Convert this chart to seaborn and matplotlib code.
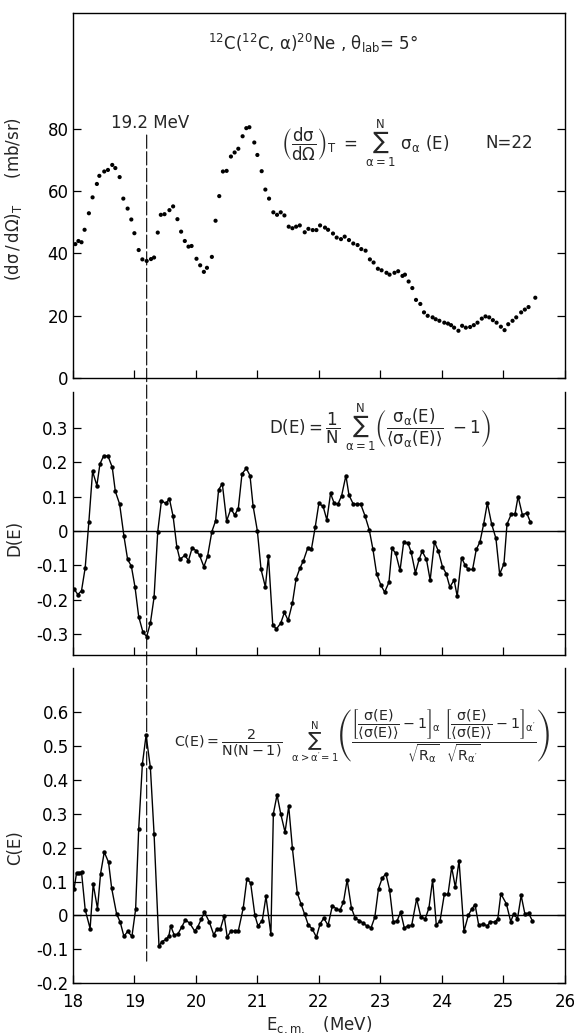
import matplotlib
matplotlib.use("Agg")
import matplotlib.pyplot as plt
import seaborn as sns
import pandas as pd
from matplotlib.patches import ConnectionPatch
from matplotlib.ticker import FuncFormatter

# total cross section (top panel)
e_sigma = [18.04, 18.09, 18.14, 18.19, 18.26, 18.32, 18.39, 18.43, 18.51, 18.57,
           18.64, 18.69, 18.76, 18.82, 18.89, 18.95, 19.00, 19.07, 19.13, 19.20,
           19.27, 19.32, 19.38, 19.43, 19.49, 19.57, 19.63, 19.70, 19.76, 19.82,
           19.88, 19.93, 20.01, 20.07, 20.13, 20.18, 20.26, 20.32, 20.38, 20.44,
           20.50, 20.57, 20.63, 20.69, 20.76, 20.82, 20.87, 20.95, 21.00, 21.07,
           21.13, 21.19, 21.26, 21.32, 21.38, 21.44, 21.51, 21.57, 21.63, 21.69,
           21.77, 21.83, 21.90, 21.96, 22.02, 22.10, 22.15, 22.23, 22.29, 22.36,
           22.42, 22.49, 22.56, 22.63, 22.69, 22.76, 22.83, 22.89, 22.96, 23.02,
           23.10, 23.15, 23.23, 23.29, 23.36, 23.40, 23.46, 23.52, 23.58, 23.65,
           23.71, 23.77, 23.85, 23.90, 23.96, 24.04, 24.10, 24.15, 24.20, 24.27,
           24.33, 24.39, 24.46, 24.52, 24.58, 24.65, 24.71, 24.77, 24.83, 24.89,
           24.96, 25.02, 25.08, 25.15, 25.21, 25.29, 25.35, 25.41, 25.52]
sigma_t = [43.0, 44.0, 43.6, 47.6, 52.9, 58.0, 62.3, 64.9, 66.3, 66.8,
           68.4, 67.4, 64.5, 57.6, 54.4, 50.9, 46.5, 41.1, 38.1, 37.6,
           38.2, 38.7, 46.7, 52.4, 52.6, 53.9, 55.1, 51.0, 47.0, 44.0,
           42.2, 42.4, 38.3, 36.2, 34.1, 35.4, 38.9, 50.5, 58.4, 66.3,
           66.5, 71.1, 72.4, 73.6, 77.6, 80.2, 80.5, 75.6, 71.6, 66.4,
           60.5, 57.6, 53.2, 52.4, 53.2, 52.2, 48.6, 48.1, 48.6, 49.0,
           46.8, 47.9, 47.5, 47.5, 49.0, 48.3, 47.6, 46.4, 45.1, 44.6,
           45.4, 44.3, 43.2, 42.7, 41.4, 40.9, 38.1, 37.1, 35.1, 34.6,
           33.8, 33.2, 33.8, 34.3, 32.8, 33.2, 31.0, 28.9, 25.1, 23.8,
           21.1, 20.0, 19.5, 18.9, 18.4, 17.8, 17.5, 17.0, 16.2, 15.2,
           16.8, 16.2, 16.4, 17.0, 17.8, 19.1, 19.8, 19.5, 18.6, 17.8,
           16.5, 15.4, 17.3, 18.4, 19.5, 21.1, 22.0, 22.8, 25.8]

# D(E) (middle panel)
e_d = [18.02, 18.08, 18.14, 18.20, 18.26, 18.32, 18.39, 18.44, 18.50, 18.57,
       18.64, 18.69, 18.76, 18.83, 18.89, 18.95, 19.01, 19.07, 19.14, 19.20,
       19.26, 19.32, 19.38, 19.44, 19.51, 19.57, 19.63, 19.69, 19.74, 19.82,
       19.88, 19.94, 20.00, 20.06, 20.13, 20.19, 20.26, 20.32, 20.37, 20.43,
       20.50, 20.57, 20.63, 20.69, 20.75, 20.82, 20.88, 20.93, 21.00, 21.06,
       21.13, 21.18, 21.25, 21.31, 21.38, 21.44, 21.50, 21.57, 21.63, 21.69,
       21.75, 21.82, 21.88, 21.94, 22.00, 22.07, 22.13, 22.19, 22.25, 22.31,
       22.37, 22.44, 22.49, 22.56, 22.62, 22.68, 22.75, 22.82, 22.88, 22.94,
       23.01, 23.07, 23.14, 23.19, 23.25, 23.32, 23.38, 23.45, 23.50, 23.57,
       23.63, 23.68, 23.75, 23.81, 23.88, 23.94, 24.01, 24.07, 24.13, 24.20,
       24.25, 24.32, 24.38, 24.43, 24.50, 24.56, 24.62, 24.68, 24.74, 24.81,
       24.88, 24.94, 25.01, 25.06, 25.13, 25.19, 25.24, 25.31, 25.38, 25.44]
d_vals = [-0.169, -0.185, -0.174, -0.107, 0.027, 0.173, 0.132, 0.195, 0.218, 0.218,
          0.185, 0.115, 0.078, -0.015, -0.083, -0.102, -0.163, -0.249, -0.295, -0.307,
          -0.268, -0.193, -0.002, 0.088, 0.080, 0.093, 0.042, -0.046, -0.083, -0.071,
          -0.086, -0.049, -0.057, -0.071, -0.104, -0.074, -0.002, 0.029, 0.120, 0.137,
          0.029, 0.065, 0.046, 0.065, 0.166, 0.182, 0.161, 0.073, 0.000, -0.112,
          -0.163, -0.073, -0.273, -0.285, -0.268, -0.237, -0.260, -0.210, -0.139, -0.109,
          -0.086, -0.049, -0.052, 0.010, 0.080, 0.071, 0.032, 0.109, 0.080, 0.078,
          0.102, 0.161, 0.104, 0.078, 0.078, 0.078, 0.044, 0.003, -0.054, -0.125,
          -0.158, -0.178, -0.149, -0.051, -0.065, -0.115, -0.032, -0.036, -0.061, -0.122,
          -0.083, -0.059, -0.083, -0.143, -0.032, -0.057, -0.104, -0.124, -0.163, -0.143,
          -0.190, -0.078, -0.100, -0.112, -0.112, -0.054, -0.032, 0.020, 0.081, 0.020,
          -0.022, -0.125, -0.096, 0.020, 0.049, 0.049, 0.100, 0.047, 0.052, 0.026]

# C(E) (bottom panel)
e_c = [18.02, 18.06, 18.10, 18.14, 18.20, 18.28, 18.33, 18.40, 18.45, 18.51,
       18.58, 18.63, 18.71, 18.77, 18.83, 18.89, 18.96, 19.02, 19.07, 19.13,
       19.19, 19.26, 19.32, 19.40, 19.45, 19.51, 19.56, 19.59, 19.65, 19.71,
       19.77, 19.83, 19.90, 19.98, 20.03, 20.09, 20.14, 20.22, 20.29, 20.34,
       20.40, 20.46, 20.51, 20.57, 20.63, 20.69, 20.77, 20.83, 20.89, 20.96,
       21.01, 21.08, 21.14, 21.22, 21.26, 21.32, 21.38, 21.45, 21.51, 21.57,
       21.65, 21.71, 21.77, 21.83, 21.89, 21.96, 22.02, 22.08, 22.15, 22.22,
       22.28, 22.34, 22.40, 22.46, 22.53, 22.59, 22.66, 22.72, 22.79, 22.85,
       22.91, 22.97, 23.03, 23.09, 23.15, 23.21, 23.27, 23.33, 23.39, 23.45,
       23.51, 23.59, 23.66, 23.73, 23.79, 23.85, 23.91, 23.97, 24.04, 24.10,
       24.16, 24.22, 24.28, 24.36, 24.43, 24.49, 24.54, 24.60, 24.67, 24.74,
       24.79, 24.86, 24.91, 24.96, 25.05, 25.12, 25.17, 25.23, 25.29, 25.35,
       25.41, 25.47]
c_vals = [0.079, 0.126, 0.126, 0.128, 0.017, -0.039, 0.093, 0.020, 0.123, 0.187,
          0.157, 0.081, 0.005, -0.020, -0.062, -0.047, -0.062, 0.018, 0.255, 0.447,
          0.532, 0.437, 0.241, -0.090, -0.077, -0.071, -0.061, -0.031, -0.059, -0.054,
          -0.034, -0.013, -0.023, -0.046, -0.034, -0.010, 0.010, -0.020, -0.057, -0.041,
          -0.039, -0.002, -0.064, -0.046, -0.046, -0.046, 0.022, 0.108, 0.096, 0.000,
          -0.031, -0.015, 0.056, -0.056, 0.300, 0.356, 0.300, 0.246, 0.322, 0.198,
          0.066, 0.034, 0.003, -0.029, -0.039, -0.064, -0.025, -0.008, -0.029, 0.029,
          0.020, 0.015, 0.039, 0.105, 0.022, -0.008, -0.015, -0.023, -0.032, -0.036,
          -0.005, 0.079, 0.110, 0.123, 0.076, -0.018, -0.017, 0.010, -0.037, -0.031,
          -0.029, 0.049, -0.005, -0.010, 0.022, 0.105, -0.028, -0.017, 0.062, 0.062,
          0.142, 0.083, 0.162, -0.047, 0.000, 0.020, 0.032, -0.029, -0.025, -0.031,
          -0.018, -0.020, -0.010, 0.064, 0.034, -0.018, 0.005, -0.010, 0.059, 0.005,
          0.007, -0.015]

e_marker = 19.2

sns.set_style("ticks")
plt.rcParams["font.family"] = ["DejaVu Sans"]
plt.rcParams["mathtext.fontset"] = "dejavusans"
plt.rcParams["mathtext.default"] = "regular"
plt.rcParams["axes.unicode_minus"] = False

top = pd.DataFrame({"E": e_sigma, "sigma": sigma_t})
mid = pd.DataFrame({"E": e_d, "D": d_vals})
bot = pd.DataFrame({"E": e_c, "C": c_vals})

fig = plt.figure(figsize=(5.74, 10.36), dpi=100)
ax1 = fig.add_axes([0.127, 0.635, 0.857, 0.352])
ax2 = fig.add_axes([0.127, 0.368, 0.857, 0.254])
ax3 = fig.add_axes([0.127, 0.051, 0.857, 0.304])

sns.scatterplot(data=top, x="E", y="sigma", ax=ax1, color="black", s=9,
                edgecolor="none")
sns.lineplot(data=mid, x="E", y="D", ax=ax2, color="black", lw=1.0,
             marker="o", markersize=3.2, markeredgewidth=0, sort=False,
             estimator=None)
sns.lineplot(data=bot, x="E", y="C", ax=ax3, color="black", lw=1.0,
             marker="o", markersize=3.2, markeredgewidth=0, sort=False,
             estimator=None)

fmt = FuncFormatter(lambda v, _: "0" if abs(v) < 1e-9 else f"{v:.1f}")

for ax in (ax1, ax2, ax3):
    ax.set_xlim(18, 26)
    ax.set_xticks(range(18, 27))
    ax.tick_params(direction="in", length=6, width=0.9, right=True,
                   top=False, labelsize=12, colors="black", pad=3)
    ax.tick_params(axis="x", pad=7)
    for sp in ax.spines.values():
        sp.set_linewidth(1.0)
        sp.set_color("black")
    ax.set_xlabel("")

ax1.set_ylim(0, 117)
ax1.set_yticks([0, 20, 40, 60, 80])
ax1.tick_params(labelbottom=False)
ax1.set_ylabel(r"$(d\sigma\,/\,d\Omega)_T$     (mb/sr)", fontsize=12)
ax1.yaxis.set_label_coords(-0.10, 0.49)

ax2.set_ylim(-0.36, 0.405)
ax2.set_yticks([-0.3, -0.2, -0.1, 0, 0.1, 0.2, 0.3])
ax2.yaxis.set_major_formatter(fmt)
ax2.tick_params(labelbottom=False)
ax2.spines["top"].set_visible(False)
ax2.axhline(0, color="black", lw=1.0)
ax2.set_ylabel("D(E)", fontsize=12)
ax2.yaxis.set_label_coords(-0.10, 0.445)

ax3.set_ylim(-0.2, 0.73)
ax3.set_yticks([-0.2, -0.1, 0, 0.1, 0.2, 0.3, 0.4, 0.5, 0.6])
ax3.yaxis.set_major_formatter(fmt)
ax3.spines["top"].set_visible(False)
ax3.axhline(0, color="black", lw=1.0)
ax3.set_ylabel("C(E)", fontsize=12)
ax3.yaxis.set_label_coords(-0.10, 0.43)
ax3.set_xlabel(r"$E_{c.m.}$   (MeV)", fontsize=12, labelpad=2)

# annotations
ax1.text(21.9, 107.5,
         r"$^{12}$C($^{12}$C, $\alpha$)$^{20}$Ne , $\theta_{lab}$= 5°",
         ha="center", va="center", fontsize=12)
ax1.text(e_marker + 0.05, 82, "19.2 MeV", ha="center", va="center",
         fontsize=12)
ax1.text(22.75, 75.5,
         r"$\left(\dfrac{d\sigma}{d\Omega}\right)_T\ =\ \sum_{\alpha=1}^{N}\ \sigma_\alpha\ (E)$",
         ha="center", va="center", fontsize=12)
ax1.text(25.1, 75.5, "N=22", ha="center", va="center", fontsize=12)

ax2.text(23.0, 0.30,
         r"$D(E) = \dfrac{1}{N}\ \sum_{\alpha=1}^{N}\left(\dfrac{\sigma_\alpha(E)}{\langle\sigma_\alpha(E)\rangle}\ -1\right)$",
         ha="center", va="center", fontsize=12)

ax3.text(22.7, 0.53,
         r"$C(E) = \dfrac{2}{N(N-1)}\ \ \sum_{\alpha>\alpha^\prime=1}^{N}"
         r"\left(\dfrac{\left[\dfrac{\sigma(E)}{\langle\sigma(E)\rangle}-1\right]_\alpha"
         r"\ \left[\dfrac{\sigma(E)}{\langle\sigma(E)\rangle}-1\right]_{\alpha^\prime}}"
         r"{\sqrt{R_\alpha}\ \ \sqrt{R_{\alpha^\prime}}}\right)$",
         ha="center", va="center", fontsize=10.3)

# dashed marker line running through all three panels
con = ConnectionPatch(xyA=(e_marker, 78), coordsA=ax1.transData,
                      xyB=(e_marker, -0.135), coordsB=ax3.transData,
                      linestyle=(0, (12, 3)), lw=0.8, color="black")
fig.add_artist(con)

fig.savefig("out.png", dpi=100, facecolor="white")
